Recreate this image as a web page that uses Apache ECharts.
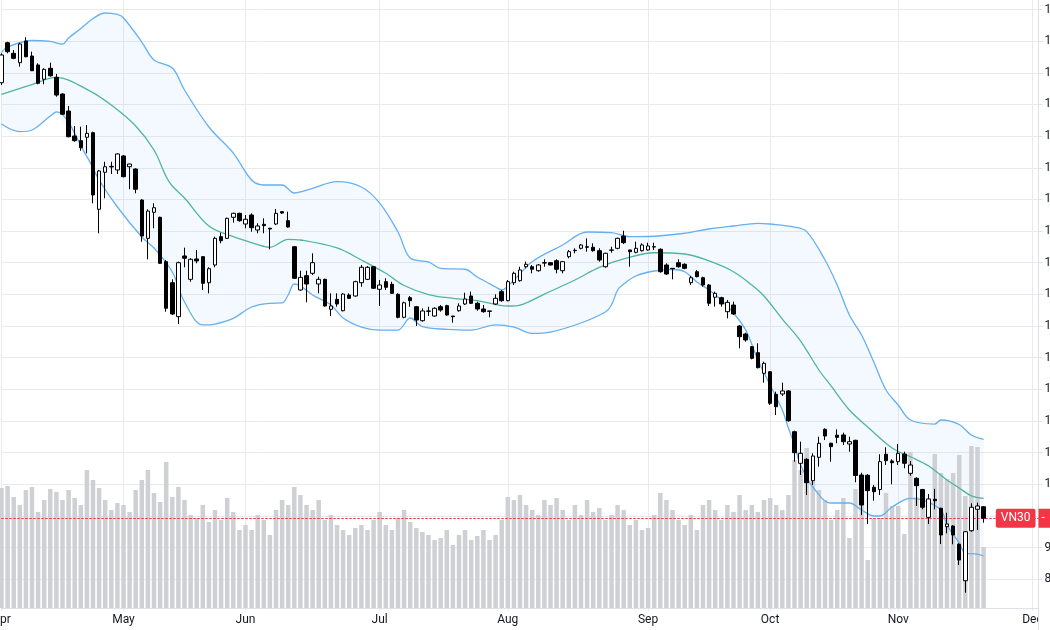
<!DOCTYPE html>
<html><head><meta charset="utf-8">
<script src="https://cdn.jsdelivr.net/npm/echarts@6/dist/echarts.min.js"></script>
<style>html,body{margin:0;padding:0;background:#fff}#c{width:1050px;height:630px}</style>
</head><body><div id="c"></div>
<script>
// Trading days (2022), category axis
const dates = [
'04-01','04-04','04-05','04-06','04-07','04-08','04-12','04-13','04-14','04-15','04-18','04-19','04-20','04-21','04-22','04-25','04-26','04-27','04-28','04-29',
'05-04','05-05','05-06','05-09','05-10','05-11','05-12','05-13','05-16','05-17','05-18','05-19','05-20','05-23','05-24','05-25','05-26','05-27','05-30','05-31',
'06-01','06-02','06-03','06-06','06-07','06-08','06-09','06-10','06-13','06-14','06-15','06-16','06-17','06-20','06-21','06-22','06-23','06-24','06-27','06-28','06-29','06-30',
'07-01','07-04','07-05','07-06','07-07','07-08','07-11','07-12','07-13','07-14','07-15','07-18','07-19','07-20','07-21','07-22','07-25','07-26','07-27','07-28','07-29',
'08-01','08-02','08-03','08-04','08-05','08-08','08-09','08-10','08-11','08-12','08-15','08-16','08-17','08-18','08-19','08-22','08-23','08-24','08-25','08-26','08-29','08-30','08-31',
'09-05','09-06','09-07','09-08','09-09','09-12','09-13','09-14','09-15','09-16','09-19','09-20','09-21','09-22','09-23','09-26','09-27','09-28','09-29','09-30',
'10-03','10-04','10-05','10-06','10-07','10-10','10-11','10-12','10-13','10-14','10-17','10-18','10-19','10-20','10-21','10-24','10-25','10-26','10-27','10-28','10-31',
'11-01','11-02','11-03','11-04','11-07','11-08','11-09','11-10','11-11','11-14','11-15','11-16','11-17','11-18','11-21','11-22','11-23','11-24','11-25','11-28','11-29','11-30',
'12-01','12-02'];
const monthNames = ['Jan','Feb','Mar','Apr','May','Jun','Jul','Aug','Sep','Oct','Nov','Dec'];

const open = [
1507.5,1558.0,1544.6,1532.8,1560.2,1541.2,1529.9,1511.8,1525.7,1514.3,
1493.2,1471.7,1440.1,1434.2,1438.5,1444.3,1347.5,1394.3,1401.0,1397.2,
1414.9,1401.3,1398.4,1359.2,1310.8,1343.7,1337.4,1281.3,1254.7,1211.8,
1288.5,1259.0,1284.7,1287.6,1254.7,1277.1,1312.9,1310.8,1337.4,1342.4,
1328.9,1340.3,1321.3,1328.5,1323.5,1328.9,1344.5,1333.1,1300.2,1245.5,
1263.6,1266.6,1253.1,1259.0,1221.1,1233.7,1219.3,1239.2,1237.9,1254.7,
1259.0,1274.9,1246.4,1256.0,1252.7,1240.1,1211.0,1235.8,1224.4,1206.7,
1219.0,1212.6,1224.4,1225.7,1212.6,1219.3,1227.8,1237.9,1228.7,1221.5,
1219.0,1227.8,1243.4,1232.0,1254.7,1257.3,1274.9,1274.9,1269.9,1280.0,
1280.0,1282.5,1269.9,1287.6,1295.2,1298.2,1300.2,1299.5,1295.2,1274.9,
1296.1,1298.2,1313.7,1296.1,1293.1,1295.2,1296.1,1300.2,1296.9,1277.1,
1272.9,1280.0,1278.0,1254.7,1268.6,1261.0,1251.8,1236.3,1235.8,1218.1,
1226.5,1200.0,1189.9,1173.8,1166.3,1140.2,1142.2,1113.7,1114.1,1117.9,
1066.4,1026.5,1031.5,1004.5,1034.1,1069.4,1051.8,1062.0,1062.3,1050.9,
1055.5,1011.7,1011.3,996.2,993.3,1037.9,1029.4,1028.5,1038.2,1013.8,
1007.5,993.3,958.2,981.0,969.6,946.4,947.2,924.1,878.1,941.3,
968.4,971.6];
const close = [
1542.5,1546.7,1538.3,1556.4,1540.3,1522.6,1506.7,1524.4,1516.3,1491.9,
1467.6,1439.2,1434.2,1425.3,1443.5,1365.6,1395.9,1401.3,1401.8,1417.4,
1388.7,1404.7,1372.8,1313.7,1345.3,1349.5,1279.2,1222.4,1215.2,1280.0,
1285.6,1284.3,1282.2,1254.0,1272.4,1310.8,1307.8,1336.1,1342.4,1333.1,
1334.9,1324.2,1326.4,1326.8,1322.6,1342.4,1342.8,1325.1,1260.3,1261.5,
1253.1,1280.0,1259.0,1225.3,1225.3,1227.8,1240.4,1235.0,1256.0,1274.2,
1274.2,1247.7,1251.8,1248.9,1241.3,1211.0,1229.4,1232.0,1207.6,1219.0,
1218.6,1222.4,1220.2,1213.9,1211.8,1225.3,1234.1,1228.7,1221.5,1218.1,
1218.6,1235.0,1232.0,1256.0,1266.6,1270.8,1278.0,1271.7,1277.1,1279.6,
1277.1,1271.7,1281.3,1293.9,1295.7,1302.4,1299.5,1295.2,1283.4,1291.9,
1295.7,1310.8,1305.3,1293.9,1298.2,1302.4,1301.1,1299.8,1268.6,1265.7,
1272.4,1274.9,1272.9,1261.0,1262.3,1251.8,1228.7,1241.3,1227.8,1229.9,
1215.2,1186.5,1182.3,1159.2,1147.3,1152.9,1102.3,1098.0,1117.9,1080.3,
1039.9,1039.1,1002.0,1035.7,1051.8,1061.0,1047.5,1059.3,1053.8,1053.8,
1011.1,973.8,991.9,990.6,1028.5,1029.8,1027.2,1039.1,1026.5,1024.3,
998.2,970.9,981.4,979.2,935.9,949.8,935.9,904.3,940.0,970.9,
972.5,957.0];
const low = [
1504.6,1544.6,1537.1,1527.7,1539.6,1522.3,1505.5,1505.5,1515.1,1489.8,
1466.7,1438.5,1432.9,1421.5,1418.3,1355.1,1317.2,1361.4,1392.1,1392.1,
1387.9,1372.8,1367.7,1306.5,1284.3,1323.5,1278.4,1218.1,1213.9,1202.5,
1274.2,1256.0,1279.2,1245.5,1241.3,1274.2,1304.5,1310.0,1330.6,1331.8,
1323.5,1319.2,1317.2,1317.2,1296.9,1327.6,1341.6,1324.5,1259.4,1244.6,
1230.0,1264.5,1241.3,1224.4,1212.6,1224.4,1218.5,1234.1,1237.0,1249.7,
1258.1,1246.8,1225.3,1245.5,1240.4,1209.7,1209.7,1224.4,1200.0,1205.4,
1212.6,1211.8,1218.1,1213.0,1204.2,1218.1,1226.5,1227.8,1219.3,1216.8,
1211.0,1226.5,1230.7,1231.2,1251.8,1256.0,1272.9,1266.6,1268.6,1274.9,
1276.5,1266.6,1266.6,1285.6,1291.9,1296.9,1293.9,1293.9,1281.3,1273.7,
1292.6,1296.9,1303.6,1274.9,1291.9,1293.9,1295.2,1296.1,1267.4,1264.5,
1259.0,1273.7,1271.7,1251.8,1261.5,1249.7,1225.3,1224.4,1224.4,1209.7,
1213.9,1171.8,1180.2,1157.9,1146.5,1128.3,1100.2,1087.5,1111.5,1079.1,
1028.5,1011.7,986.4,999.1,1022.2,1055.9,1028.5,1051.8,1049.6,1041.1,
1002.5,961.1,949.8,979.2,986.4,1024.3,1000.0,1024.3,1020.2,1010.8,
972.5,968.4,949.8,968.4,924.5,938.0,924.1,898.0,862.9,940.0,
942.2,951.4];
const high = [
1544.6,1559.3,1548.8,1558.0,1564.9,1546.7,1532.0,1525.7,1532.8,1518.5,
1494.1,1478.0,1452.8,1451.9,1454.0,1445.6,1397.2,1407.6,1407.6,1418.3,
1416.1,1405.2,1399.3,1360.1,1347.5,1355.1,1338.1,1283.4,1259.0,1281.3,
1299.0,1285.6,1296.1,1288.5,1274.2,1312.9,1317.9,1336.9,1343.2,1343.2,
1340.3,1342.4,1329.8,1336.1,1324.0,1347.9,1345.3,1344.5,1301.1,1269.9,
1269.9,1291.9,1262.3,1259.8,1241.3,1241.3,1241.3,1241.3,1257.3,1277.1,
1275.8,1275.8,1258.1,1260.3,1256.0,1241.3,1230.7,1237.9,1225.3,1222.4,
1224.4,1223.6,1226.5,1226.9,1212.6,1228.7,1242.1,1243.4,1230.7,1226.5,
1219.0,1240.1,1245.5,1258.1,1268.6,1274.9,1281.3,1277.1,1278.4,1284.3,
1280.9,1284.3,1282.2,1296.1,1298.2,1303.6,1310.8,1304.5,1298.2,1292.6,
1300.2,1311.6,1320.4,1296.1,1306.5,1304.5,1305.3,1305.3,1298.2,1279.2,
1272.9,1284.3,1279.2,1263.2,1270.8,1262.3,1253.1,1243.4,1237.0,1232.9,
1230.7,1201.3,1191.5,1174.7,1178.1,1154.9,1143.1,1117.0,1128.3,1119.1,
1067.7,1053.8,1032.8,1039.1,1060.1,1070.7,1052.5,1069.4,1065.2,1060.1,
1056.3,1014.6,1013.0,999.1,1037.9,1046.7,1031.5,1050.9,1041.1,1029.4,
1008.8,994.2,987.7,994.2,970.4,964.0,948.1,925.4,940.9,975.9,
976.7,972.5];
const volume = [
240,244,222,206,236,242,192,216,238,232,
216,236,220,206,276,256,240,216,196,210,
206,192,236,256,276,230,212,292,222,242,
216,186,180,206,172,196,176,220,192,156,
166,156,186,176,146,196,216,206,242,226,
206,196,216,176,186,166,156,146,160,166,
156,176,192,166,156,180,196,172,160,152,
146,136,140,156,126,146,156,136,144,156,
136,146,176,222,216,226,206,196,186,216,
206,220,196,176,206,186,216,192,200,176,
186,206,196,166,176,156,160,186,230,216,
196,176,166,186,156,206,216,196,176,206,
192,226,196,206,192,216,220,206,196,226,
296,276,320,276,236,216,176,196,220,140,
238,236,96,180,180,230,204,204,148,312,
222,216,196,308,270,258,270,306,224,324,
322,122];
// Bollinger bands: [day index, value]
const bbUpper = [[0,1545.6],[1,1552.6],[5,1560.8],[8,1559.6],[10,1556.4],[11,1564.0],[13,1576.0],[15,1588.6],[17,1595.6],[19,1593.7],[20,1589.3],[23,1558.9],[25,1536.2],[28,1526.1],[30,1498.3],[34,1451.5],[38,1418.6],[41,1384.5],[43,1378.2],[46,1378.2],[48,1368.1],[51,1374.0],[55,1382.4],[59,1375.7],[62,1355.4],[65,1318.8],[67,1285.9],[70,1280.9],[72,1272.9],[76,1271.7],[78,1261.9],[81,1249.3],[82,1245.5],[84,1258.1],[87,1281.3],[92,1302.4],[96,1318.8],[100,1317.9],[103,1312.9],[106,1313.1],[112,1317.2],[116,1322.6],[120,1326.4],[124,1329.8],[126,1328.9],[130,1325.1],[132,1319.2],[135,1283.4],[137,1251.8],[139,1213.9],[141,1188.6],[143,1154.5],[145,1119.1],[147,1100.2],[149,1081.2],[153,1076.1],[154,1081.2],[157,1075.5],[159,1062.3],[161,1056.8]];
const bbMiddle = [[0,1492.8],[5,1505.2],[9,1514.1],[14,1499.1],[18,1479.3],[22,1452.8],[25,1422.4],[27,1388.7],[28,1376.9],[30,1361.8],[34,1326.4],[38,1312.9],[42,1303.0],[44,1299.5],[47,1309.6],[49,1308.7],[55,1298.6],[59,1283.4],[63,1266.6],[66,1251.2],[70,1239.8],[74,1235.0],[78,1232.2],[83,1225.3],[85,1226.5],[89,1240.4],[94,1258.1],[98,1274.2],[102,1284.7],[107,1292.6],[112,1291.0],[116,1282.2],[120,1268.6],[123,1251.8],[125,1237.9],[128,1208.8],[131,1181.0],[134,1144.4],[136,1124.2],[139,1093.8],[142,1072.4],[146,1045.8],[149,1034.8],[152,1023.1],[155,1005.4],[157,995.3],[159,985.2],[161,982.0]];
const bbLower = [[0,1455.3],[3,1445.6],[5,1447.7],[8,1465.4],[9,1470.5],[14,1414.0],[16,1384.5],[19,1350.4],[23,1312.5],[25,1298.6],[28,1268.3],[30,1230.3],[33,1201.3],[35,1202.5],[38,1209.7],[41,1224.0],[44,1228.7],[46,1229.1],[47,1239.2],[48,1253.1],[49,1250.5],[51,1239.2],[54,1226.5],[56,1210.1],[59,1198.7],[62,1194.9],[65,1194.9],[67,1210.1],[69,1199.1],[73,1195.8],[77,1194.9],[81,1201.3],[84,1198.7],[87,1190.8],[90,1192.4],[95,1203.8],[99,1217.7],[100,1226.5],[101,1245.5],[102,1253.1],[104,1263.2],[107,1269.5],[110,1271.4],[112,1268.6],[114,1255.6],[116,1245.5],[118,1232.9],[120,1216.4],[122,1194.9],[124,1157.0],[126,1125.4],[128,1093.8],[129,1071.1],[130,1049.6],[131,1024.3],[133,996.5],[136,976.3],[139,976.3],[141,967.5],[143,959.9],[144,959.9],[146,971.2],[149,982.2],[151,980.1],[154,967.5],[155,948.5],[157,925.8],[158,913.1],[160,911.8],[161,909.3]];
const symbolName = 'VN30';

const candles = open.map((o, i) => [o, close[i], low[i], high[i]]);
const lastClose = close[close.length - 1];
const isMonthStart = (i) => i === 0 || dates[i].slice(0, 2) !== dates[i - 1].slice(0, 2);
const gridColor = '#e9eaee';
const font = 'Roboto, "Liberation Sans", sans-serif';

const chart = echarts.init(document.getElementById('c'), null, {renderer: 'canvas'});
chart.setOption({
  animation: false,
  backgroundColor: '#ffffff',
  grid: [
    {left: 1.5, right: 11.5, top: -22.15, bottom: 630 - 610.85, containLabel: false, outerBoundsMode: 'none'},
    {left: 1.5, right: 11.5, top: 408, bottom: 22, containLabel: false, outerBoundsMode: 'none'}
  ],
  xAxis: [
    {type: 'category', gridIndex: 0, data: dates, boundaryGap: false,
     axisLine: {show: false}, axisTick: {show: false}, axisLabel: {show: false},
     splitLine: {show: true, interval: (i) => isMonthStart(i), lineStyle: {color: gridColor, width: 1}}},
    {type: 'category', gridIndex: 1, data: dates, boundaryGap: false,
     axisLine: {show: true, lineStyle: {color: '#dfe1e6'}}, axisTick: {show: false},
     axisLabel: {show: true, interval: (i) => isMonthStart(i), margin: 6, color: '#131722', fontSize: 12, fontFamily: font,
       formatter: (v) => monthNames[parseInt(v.slice(0, 2), 10) - 1]},
     splitLine: {show: false}}
  ],
  yAxis: [
    {type: 'value', gridIndex: 0, position: 'right', min: 840, max: 1640, interval: 40,
     axisLine: {show: true, lineStyle: {color: '#dfe1e6'}},
     axisTick: {show: true, length: 4, lineStyle: {color: '#dfe1e6'}},
     axisLabel: {show: true, showMinLabel: false, margin: 6, color: '#131722', fontSize: 12, fontFamily: font,
       formatter: (v) => v.toFixed(2)},
     splitLine: {show: true, showMinLine: false, lineStyle: {color: gridColor, width: 1}}},
    {type: 'value', gridIndex: 1, min: 0, max: 400, show: false, splitLine: {show: false}}
  ],
  series: [
    {type: 'custom', name: 'bbfill', xAxisIndex: 0, yAxisIndex: 0, z: 1, silent: true,
     data: [[0, 1000]],
     renderItem: (params, api) => {
       const pts = bbUpper.map(p => api.coord(p)).concat(bbLower.slice().reverse().map(p => api.coord(p)));
       return {type: 'polygon', shape: {points: pts}, style: {fill: 'rgba(33,150,243,0.055)'}};
     }},
    {type: 'bar', name: 'Volume', xAxisIndex: 1, yAxisIndex: 1, z: 2, data: volume, barWidth: 4.5,
     itemStyle: {color: '#cfd0d4'}, silent: true},
    {type: 'line', name: 'Upper', xAxisIndex: 0, yAxisIndex: 0, z: 3, data: bbUpper, showSymbol: false, smooth: 0.35,
     lineStyle: {color: '#64b0f2', width: 1.3}, silent: true},
    {type: 'line', name: 'Lower', xAxisIndex: 0, yAxisIndex: 0, z: 3, data: bbLower, showSymbol: false, smooth: 0.35,
     lineStyle: {color: '#64b0f2', width: 1.3}, silent: true},
    {type: 'line', name: 'Basis', xAxisIndex: 0, yAxisIndex: 0, z: 3, data: bbMiddle, showSymbol: false, smooth: 0.35,
     lineStyle: {color: '#4fb5a3', width: 1.3}, silent: true},
    {type: 'candlestick', name: symbolName, xAxisIndex: 0, yAxisIndex: 0, z: 5, data: candles, barWidth: 4,
     itemStyle: {color: '#ffffff', color0: '#000000', borderColor: '#000000', borderColor0: '#000000', borderWidth: 1},
     markLine: {
       silent: true, symbol: ['none', 'none'], animation: false,
       lineStyle: {color: '#f23645', type: [2, 2], width: 1},
       data: [
         {yAxis: lastClose, label: {show: true, position: 'insideEnd', distance: 3, formatter: symbolName,
            backgroundColor: '#f23645', color: '#ffffff', padding: [4, 5, 3, 5], fontSize: 12, fontFamily: font, borderRadius: 2}},
         {yAxis: lastClose, label: {show: true, position: 'end', distance: 0, formatter: () => '-  ' + lastClose.toFixed(2),
            backgroundColor: '#f23645', color: '#ffffff', padding: [4, 3, 3, 3], fontSize: 12, fontFamily: font}}
       ]
     }}
  ],
  graphic: [
    {type: 'rect', left: 1039, top: 612, shape: {width: 11, height: 18}, style: {fill: '#ffffff'}, z: 100},
    {type: 'line', shape: {x1: 1038.5, y1: 608, x2: 1038.5, y2: 630}, style: {stroke: '#dfe1e6', lineWidth: 1}, z: 101}
  ]
});
</script></body></html>
